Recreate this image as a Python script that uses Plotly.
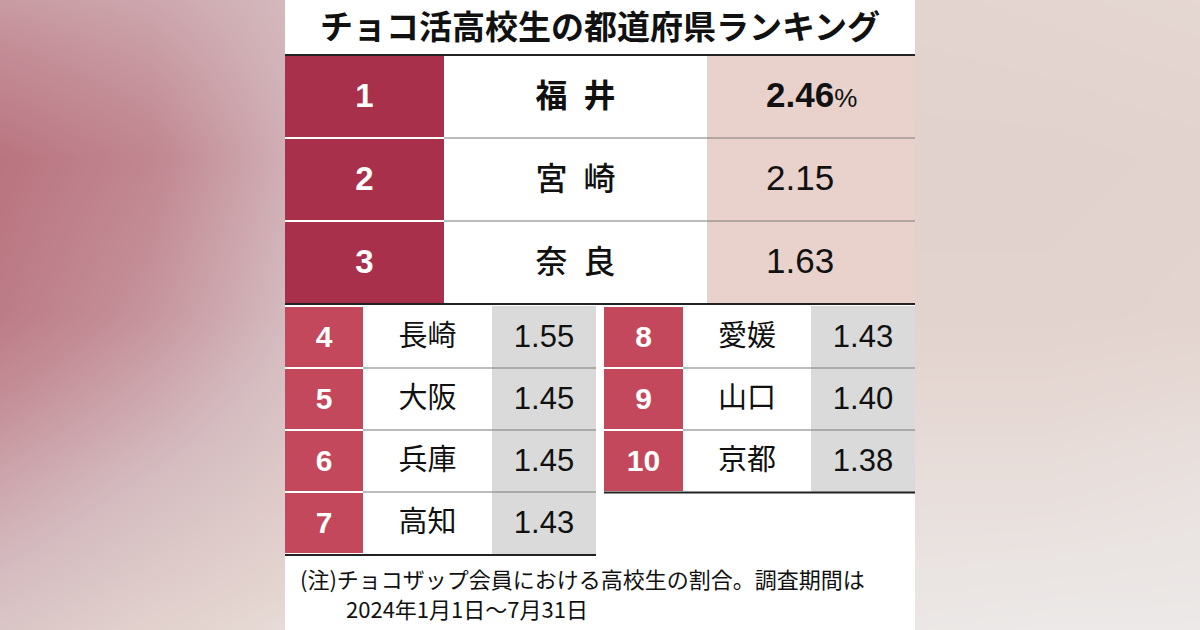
import plotly.graph_objects as go

# ranking data
ranks = [1, 2, 3, 4, 5, 6, 7, 8, 9, 10]
prefs = ["福井", "宮崎", "奈良", "長崎", "大阪", "兵庫", "高知", "愛媛", "山口", "京都"]
rates = [2.46, 2.15, 1.63, 1.55, 1.45, 1.45, 1.43, 1.43, 1.40, 1.38]

title = "チョコ活高校生の都道府県ランキング"
note1 = "(注)チョコザップ会員における高校生の割合。調査期間は"
note2 = "2024年1月1日～7月31日"

# blurred backdrop, coarse grid (0 = light grey, 1 = dark rose)
bg_x = [0, 150, 300, 450, 600, 750, 900, 1050, 1200]
bg_y = [0, 157.5, 315, 472.5, 630]
bg_z = [
    [0.62, 0.54, 0.40, 0.30, 0.25, 0.20, 0.16, 0.15, 0.14],
    [0.95, 0.78, 0.45, 0.30, 0.25, 0.20, 0.18, 0.18, 0.17],
    [0.88, 0.66, 0.38, 0.30, 0.25, 0.20, 0.17, 0.17, 0.16],
    [0.56, 0.40, 0.25, 0.20, 0.15, 0.12, 0.10, 0.10, 0.08],
    [0.30, 0.18, 0.10, 0.08, 0.05, 0.05, 0.04, 0.03, 0.03],
]

CJK = "Noto Sans CJK JP"
NUM = "Liberation Sans"

# layout of the table (pixels)
TOP_Y = [55, 138, 221, 304]          # row edges, ranks 1-3
TOP_COLS = [285, 444, 707, 915]      # rank / name / value
LOW_Y = [306, 368, 430, 492, 554]    # row edges, lower blocks
LEFT_COLS = [285, 363, 492, 596]
RIGHT_COLS = [604, 683, 811, 915]
NUDGE = 2                            # text sits a touch below row centre

RED_DARK = "#a9304b"
RED_LIGHT = "#c3485b"
PINK = "#e8d2cb"
GREY = "#dadada"

fig = go.Figure()

fig.add_trace(go.Heatmap(
    x=bg_x, y=bg_y, z=bg_z, zsmooth="best", showscale=False, hoverinfo="skip",
    zmin=0, zmax=1,
    colorscale=[[0, "#eeeeee"], [0.15, "#e4d5d0"], [0.4, "#d4bbbf"],
                [0.7, "#c48f98"], [1, "#b76f7b"]],
))

# white panel
fig.add_trace(go.Bar(orientation="h", y=[315], base=[285], x=[630], width=[630],
                     marker=dict(color="white", line_width=0), hoverinfo="skip"))


def centers(edges):
    return [(a + b) / 2 for a, b in zip(edges[:-1], edges[1:])]


def cell_bars(cols, col_i, edges, color, gap=0):
    ys = centers(edges)
    h = [b - a - gap for a, b in zip(edges[:-1], edges[1:])]
    fig.add_trace(go.Bar(
        orientation="h", y=ys, base=[cols[col_i]] * len(ys),
        x=[cols[col_i + 1] - cols[col_i]] * len(ys), width=h,
        marker=dict(color=color, line_width=0), hoverinfo="skip"))


cell_bars(TOP_COLS, 0, TOP_Y, RED_DARK, gap=2)
cell_bars(TOP_COLS, 2, TOP_Y, PINK)
cell_bars(LEFT_COLS, 0, LOW_Y, RED_LIGHT, gap=2)
cell_bars(LEFT_COLS, 2, LOW_Y, GREY)
cell_bars(RIGHT_COLS, 0, LOW_Y[:4], RED_LIGHT, gap=2)
cell_bars(RIGHT_COLS, 2, LOW_Y[:4], GREY)


def text_trace(xs, ys, texts, size, family, color="#111", weight="normal",
               pos="middle center"):
    fig.add_trace(go.Scatter(
        x=xs, y=[y + NUDGE for y in ys], text=texts, mode="text", textposition=pos,
        textfont=dict(size=size, family=family, color=color, weight=weight),
        hoverinfo="skip"))


def fmt(v):
    return f"{v:.2f}"


# top three
ty = centers(TOP_Y)
tc = centers(TOP_COLS)
text_trace([tc[0]] * 3, ty, [str(r) for r in ranks[:3]], 33, NUM, "white", "bold")
text_trace([tc[1]], ty[:1], [prefs[0][0] + "\u2002" + prefs[0][1]], 32, CJK, weight="bold")
text_trace([tc[1]] * 2, ty[1:], [p[0] + "\u2002" + p[1] for p in prefs[1:3]], 32, CJK,
           weight=500)
text_trace([766], ty[:1],
           [fmt(rates[0]) + "<span style='font-size:26px;font-weight:normal'>%</span>"],
           35, NUM, weight="bold", pos="middle right")
text_trace([766] * 2, ty[1:], [fmt(v) for v in rates[1:3]], 35, NUM, pos="middle right")

# lower blocks
for cols, idx, edges in [(LEFT_COLS, slice(3, 7), LOW_Y), (RIGHT_COLS, slice(7, 10), LOW_Y[:4])]:
    ly = centers(edges)
    lc = centers(cols)
    n = len(ly)
    text_trace([lc[0]] * n, ly, [str(r) for r in ranks[idx]], 30, NUM, "white", "bold")
    text_trace([lc[1]] * n, ly, prefs[idx], 29, CJK)
    text_trace([lc[2]] * n, ly, [fmt(v) for v in rates[idx]], 31, NUM)

# rule lines
lines = [
    (285, 915, 55, "#222", 2), (285, 915, 304, "#222", 2),
    (285, 596, 555, "#222", 2), (604, 915, 492.5, "#222", 2),
]
for y in TOP_Y[1:-1]:
    lines.append((444, 915, y, "#7a7a7a", 1.2))
    lines.append((285, 444, y, "white", 2))
for y in LOW_Y[1:-1]:
    lines.append((363, 596, y, "#7a7a7a", 1.2))
for y in LOW_Y[1:3]:
    lines.append((683, 915, y, "#7a7a7a", 1.2))
for x0, x1, y, c, w in lines:
    fig.add_shape(type="line", x0=x0, x1=x1, y0=y, y1=y, xref="x", yref="y",
                  line=dict(color=c, width=w), layer="above")

fig.add_annotation(x=600, y=25, xref="x", yref="y", text=title, showarrow=False,
                   font=dict(family=CJK, size=33, color="#111", weight="bold"))
fig.add_annotation(x=298, y=578, xref="x", yref="y", text=note1, showarrow=False,
                   xanchor="left", font=dict(family=CJK, size=22, color="#111"))
fig.add_annotation(x=344, y=608, xref="x", yref="y", text=note2, showarrow=False,
                   xanchor="left", font=dict(family=CJK, size=22, color="#111"))

fig.update_layout(
    width=1200, height=630, margin=dict(l=0, r=0, t=0, b=0),
    paper_bgcolor="white", plot_bgcolor="white", showlegend=False,
    barmode="overlay", bargap=0,
    xaxis=dict(range=[0, 1200], visible=False, fixedrange=True),
    yaxis=dict(range=[630, 0], visible=False, fixedrange=True),
)

fig.write_html("out.html", config={"displayModeBar": False},
               post_script="document.body.style.margin='0';")
